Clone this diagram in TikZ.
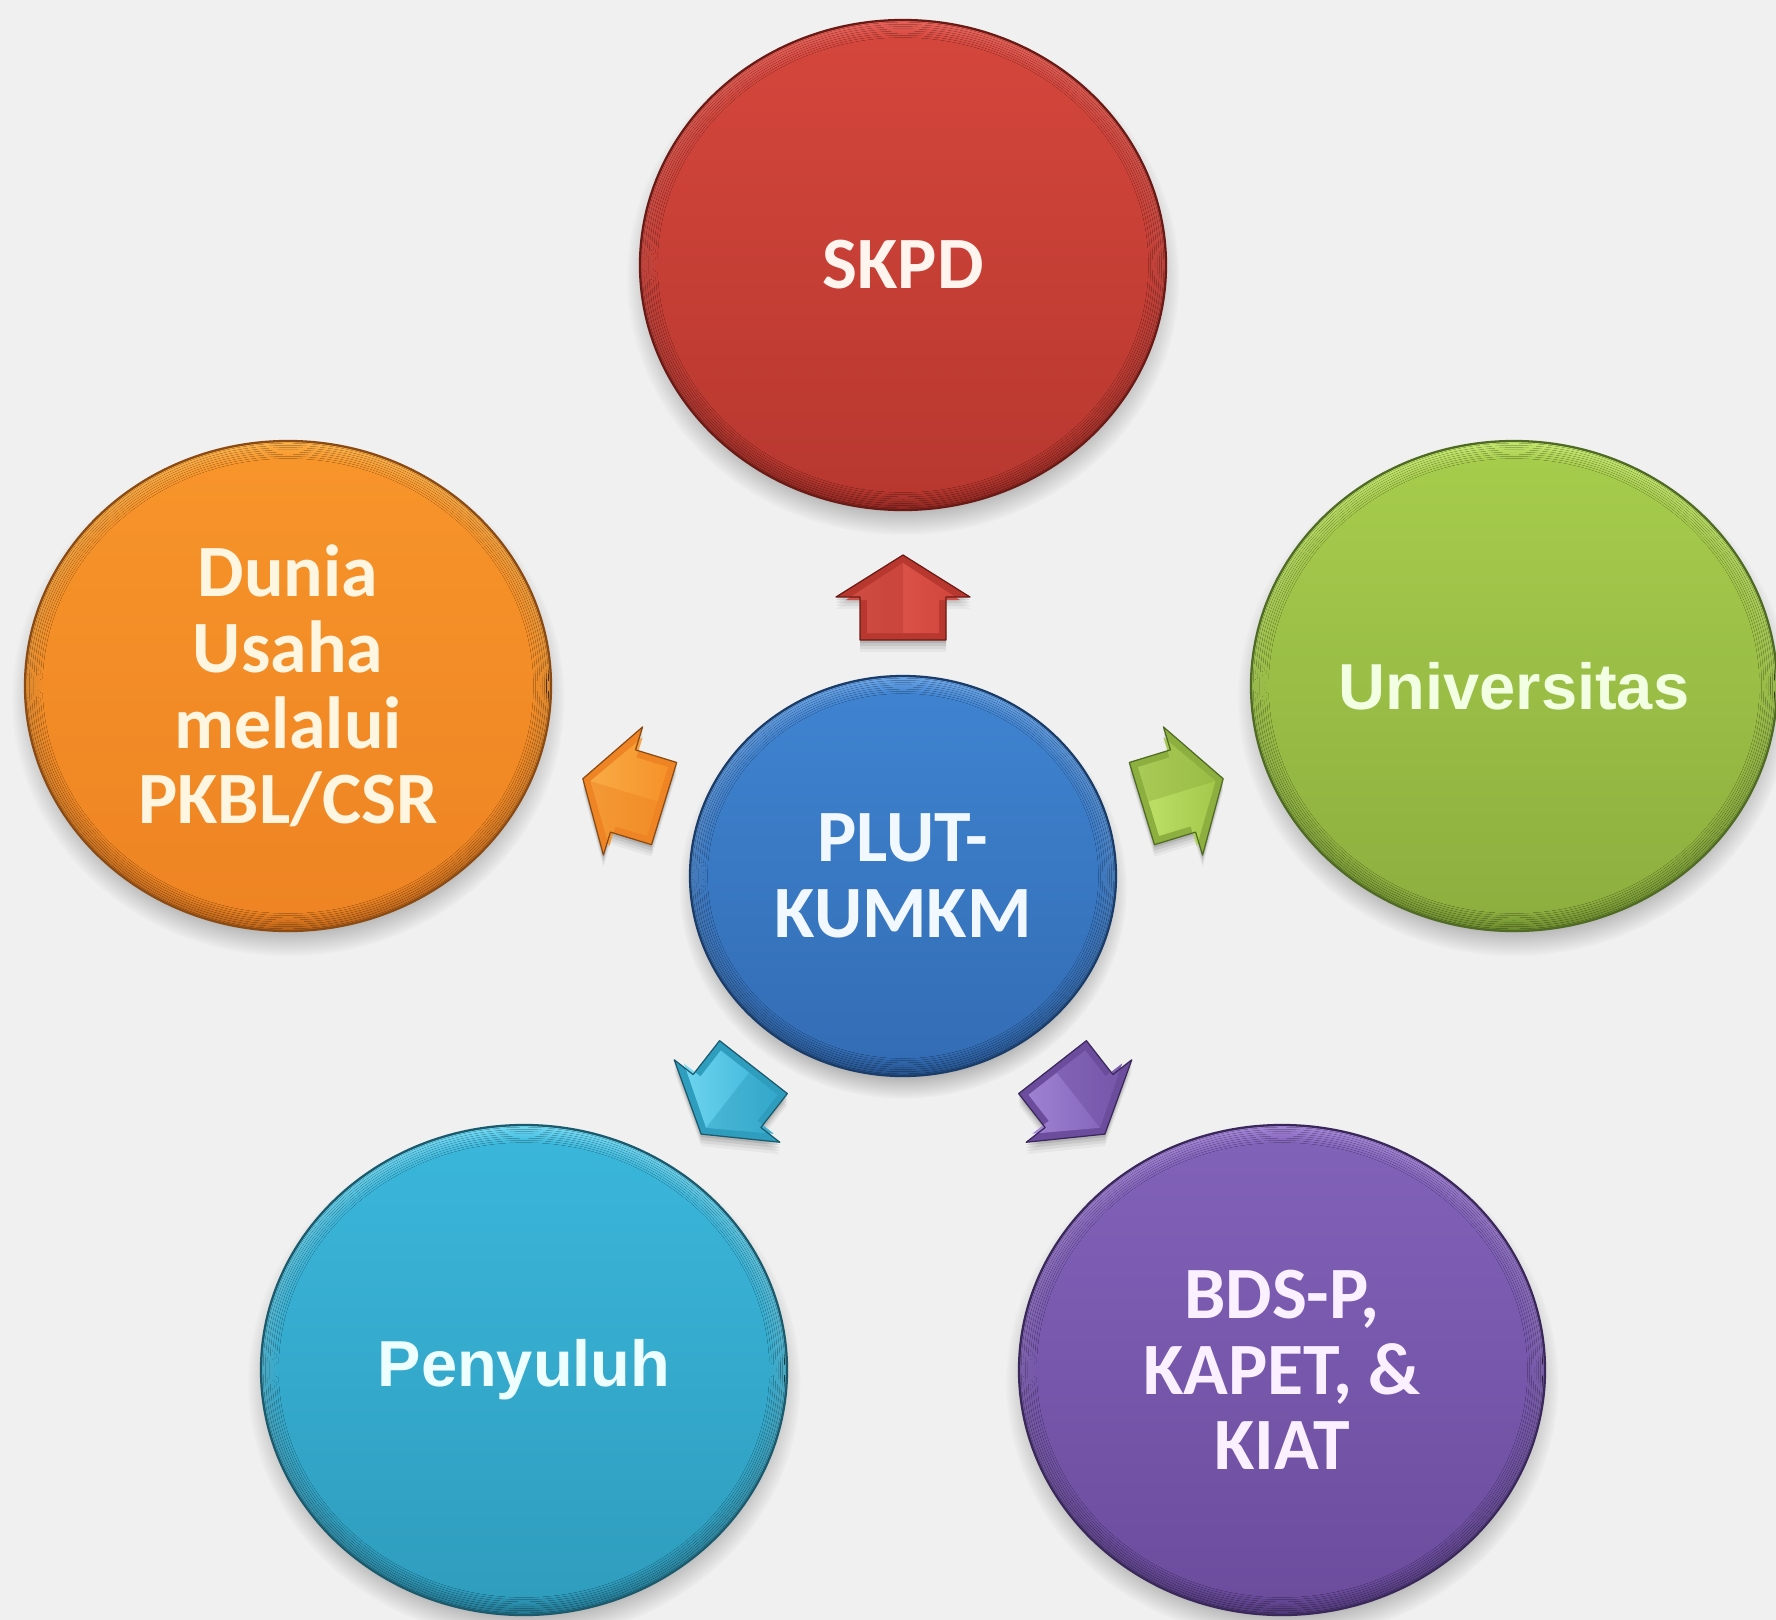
\documentclass[tikz,border=0pt]{standalone}
\usepackage{fontspec}
\setmainfont{Carlito}
\newfontfamily\arialfont{Liberation Sans}
\usetikzlibrary{shadows,fadings,shapes.geometric}

\definecolor{bg}{HTML}{F0F0F0}
% bubble palettes: A rim light, B face top, C face bottom, D rim dark, E outline, T text
\definecolor{redA}{HTML}{E8635A}\definecolor{redB}{HTML}{D4463C}\definecolor{redC}{HTML}{B8382F}\definecolor{redD}{HTML}{8F2721}\definecolor{redE}{HTML}{6A1A15}\definecolor{redT}{HTML}{FFF4EE}
\definecolor{orgA}{HTML}{FBB04A}\definecolor{orgB}{HTML}{F7942A}\definecolor{orgC}{HTML}{EE8423}\definecolor{orgD}{HTML}{B8621A}\definecolor{orgE}{HTML}{8A4A12}\definecolor{orgT}{HTML}{FFF6E2}
\definecolor{grnA}{HTML}{C6E870}\definecolor{grnB}{HTML}{A6CC4C}\definecolor{grnC}{HTML}{8DAF3F}\definecolor{grnD}{HTML}{6B8A2E}\definecolor{grnE}{HTML}{4F6A22}\definecolor{grnT}{HTML}{F2FFE2}
\definecolor{bluA}{HTML}{6CA6E8}\definecolor{bluB}{HTML}{3F83D0}\definecolor{bluC}{HTML}{336DB5}\definecolor{bluD}{HTML}{24518A}\definecolor{bluE}{HTML}{1A3C68}\definecolor{bluT}{HTML}{F2F8FF}
\definecolor{cynA}{HTML}{74DAF4}\definecolor{cynB}{HTML}{3AB6DB}\definecolor{cynC}{HTML}{2F9DBE}\definecolor{cynD}{HTML}{23768F}\definecolor{cynE}{HTML}{1A5A6C}\definecolor{cynT}{HTML}{EEFFFF}
\definecolor{purA}{HTML}{A587D8}\definecolor{purB}{HTML}{8162B9}\definecolor{purC}{HTML}{6B4C9D}\definecolor{purD}{HTML}{4F3877}\definecolor{purE}{HTML}{3A285A}\definecolor{purT}{HTML}{FAF0FF}

\tikzset{
  disc/.style={ellipse, minimum width=105.2mm, minimum height=98mm, inner sep=0pt,
    align=center, font=\bfseries\fontsize{42}{43}\selectfont},
  hub/.style={disc, minimum width=85.2mm, minimum height=80mm},
  sanslabel/.style={font=\arialfont\bfseries\fontsize{37}{40}\selectfont},
  % bevelled block arrow pointing along local +x, origin at the head base
  pics/facetarrow/.style={code={
    \fill[#1C] (42,0) -- (0,67) -- (0,43) -- (-43,43) -- (-43,-43) -- (0,-43) -- (0,-67) -- cycle;
    \shade[left color=#1A, right color=#1B, opacity=.9] (34,0) -- (-3,57) -- (-3,36) -- (-36,36) -- (-36,-36) -- (-3,-36) -- (-3,-57) -- cycle;
    \fill[#1C, opacity=.45] (34,0) -- (-3,-57) -- (-3,-36) -- (-36,-36) -- (-36,0) -- cycle;
    \draw[#1E, line width=0.7pt, line join=round] (42,0) -- (0,67) -- (0,43) -- (-43,43) -- (-43,-43) -- (0,-43) -- (0,-67) -- cycle;
  }},
  pics/arrowshadow/.style={code={
    \fill[black, opacity=#1] (42,0) -- (0,67) -- (0,43) -- (-43,43) -- (-43,-43) -- (0,-43) -- (0,-67) -- cycle;
  }}
}

% 3-D looking disc: soft shadow, bevelled rim, gradient face, thin outline
\newcommand\bubble[4]{%
  \path[circular drop shadow={shadow xshift=0mm, shadow yshift=-2.4mm, shadow scale=1.05, opacity=.6, fill=black!60}]
    (#1) ellipse [x radius={#2*0.2mm}, y radius={#3*0.2mm}];
  \foreach \k in {0,...,8}{%
    \pgfmathtruncatemacro\mixpct{\k*12.5}%
    \fill[top color=#4B!\mixpct!#4A, bottom color=#4C!\mixpct!#4D]
      (#1) ellipse [x radius={(#2-2.2*\k)*0.2mm}, y radius={(#3-2.2*\k)*0.2mm}];
  }%
  \draw[#4E, line width=1.3pt] (#1) ellipse [x radius={#2*0.2mm}, y radius={#3*0.2mm}];
}

\newcommand\blockarrow[4]{%
  \foreach \s/\o in {3/0.10,6/0.08,9/0.06,12/0.04}{\pic[rotate=#3] at (#1,#2+\s) {arrowshadow=\o};}%
  \pic[rotate=#3] at (#1,#2) {facetarrow=#4};
}

\begin{document}
\begin{tikzpicture}[x=0.2mm, y=-0.2mm]
\useasboundingbox (0,0) rectangle (1776,1620);
\fill[bg] (0,0) rectangle (1776,1620);

\coordinate (c-skpd) at (903,265);
\coordinate (c-dunia) at (288,686);
\coordinate (c-univ) at (1514,686);
\coordinate (c-peny) at (524,1370);
\coordinate (c-bds) at (1282,1370);
\coordinate (c-plut) at (903,876);

\bubble{c-skpd}{263}{245}{red}
\bubble{c-dunia}{263}{245}{org}
\bubble{c-univ}{263}{245}{grn}
\bubble{c-peny}{263}{245}{cyn}
\bubble{c-bds}{263}{245}{pur}
\bubble{c-plut}{213}{200}{blu}

\blockarrow{903}{597}{90}{red}
\blockarrow{1183}{791}{17}{grn}
\blockarrow{1079}{1101}{-52}{pur}
\blockarrow{727}{1101}{-128}{cyn}
\blockarrow{623}{791}{163}{org}

\node[disc, text=redT] (skpd) at (c-skpd) {SKPD};
\node[disc, text=orgT] (dunia) at (c-dunia) {Dunia\\Usaha\\melalui\\PKBL/CSR};
\node[disc, sanslabel, text=grnT] (univ) at (c-univ) {Universitas};
\node[disc, sanslabel, text=cynT] (peny) at (c-peny) {Penyuluh};
\node[disc, text=purT] (bds) at (c-bds) {BDS-P,\\KAPET, \&\\KIAT};
\node[hub, text=bluT] (plut) at (c-plut) {PLUT-\\KUMKM};
\end{tikzpicture}
\end{document}
